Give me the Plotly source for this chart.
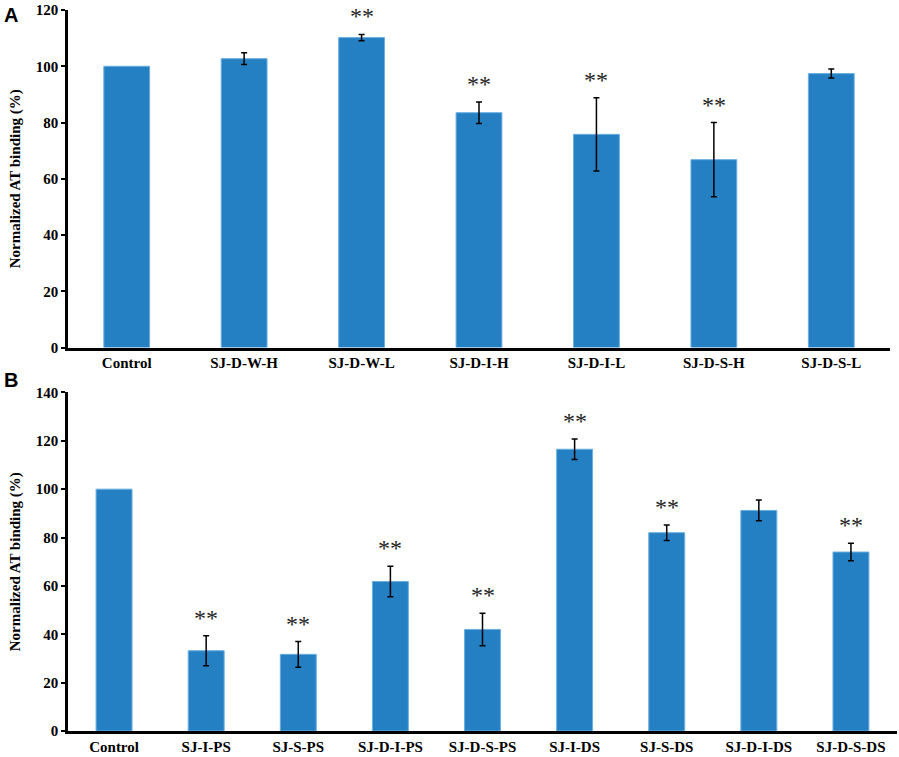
import plotly.graph_objects as go

# panel A
cats_a = ["Control", "SJ-D-W-H", "SJ-D-W-L", "SJ-D-I-H", "SJ-D-I-L", "SJ-D-S-H", "SJ-D-S-L"]
vals_a = [100, 102.7, 110.2, 83.5, 75.8, 66.8, 97.4]
errs_a = [None, 2.1, 1.1, 3.8, 13.0, 13.2, 1.6]
sig_a = ["", "", "**", "**", "**", "**", ""]

# panel B
cats_b = ["Control", "SJ-I-PS", "SJ-S-PS", "SJ-D-I-PS", "SJ-D-S-PS",
          "SJ-I-DS", "SJ-S-DS", "SJ-D-I-DS", "SJ-D-S-DS"]
vals_b = [100, 33.2, 31.7, 61.8, 42.0, 116.5, 82.0, 91.2, 74.0]
errs_b = [None, 6.2, 5.3, 6.3, 6.7, 4.2, 3.2, 4.3, 3.6]
sig_b = ["", "**", "**", "**", "**", "**", "**", "", "**"]

BAR = "#2580C3"
serif = "Liberation Serif"

H, W = 757, 899
ml, mr, mt, mb = 68, 2, 8, 25
ph = H - mt - mb
pw = W - ml - mr

fig = go.Figure()
annotations = []

for cats, vals, errs, sig, xa, ya in [(cats_a, vals_a, errs_a, sig_a, "x", "y"),
                                      (cats_b, vals_b, errs_b, sig_b, "x2", "y2")]:
    fig.add_trace(go.Bar(
        x=cats, y=vals, width=0.39,
        marker=dict(color=BAR, line=dict(color="#6AAEE0", width=1)),
        xaxis=xa, yaxis=ya, showlegend=False, hoverinfo="skip",
    ))
    # error bars only where a value is given (control has none)
    ex = [c for c, e in zip(cats, errs) if e is not None]
    ey = [v for v, e in zip(vals, errs) if e is not None]
    ee = [e for e in errs if e is not None]
    fig.add_trace(go.Scatter(
        x=ex, y=ey, mode="markers", marker=dict(size=1, opacity=0),
        error_y=dict(type="data", array=ee, visible=True,
                     color="black", thickness=1.5, width=3),
        xaxis=xa, yaxis=ya, showlegend=False, hoverinfo="skip",
    ))
    for c, v, e, s in zip(cats, vals, errs, sig):
        if s:
            annotations.append(dict(
                x=c, y=v + (e or 0), xref=xa, yref=ya, text=s, showarrow=False,
                yanchor="bottom", yshift=3,
                font=dict(family=serif, size=24, color="#222222"),
            ))

# panel letters
for letter, py in [("A", 13), ("B", 380)]:
    annotations.append(dict(
        x=(2 - ml) / pw, y=(H - mb - py) / ph, xref="paper", yref="paper",
        text=f"<b>{letter}</b>", showarrow=False, xanchor="left", yanchor="middle",
        font=dict(family="Liberation Sans", size=20, color="black"),
    ))

axis_common = dict(showline=True, linecolor="black", linewidth=2.5, showgrid=False,
                   zeroline=False, tickfont=dict(family=serif, size=15, color="black"),
                   tickprefix="<b>", ticksuffix="</b>")
yaxis_common = dict(dtick=20, ticks="outside", ticklen=4, tickwidth=1.5, tickcolor="black",
                    title=dict(text="<b>Normalized AT binding (%)</b>", standoff=12,
                               font=dict(family=serif, size=15, color="black")))

fig.update_layout(
    width=W, height=H,
    margin=dict(l=ml, r=mr, t=mt, b=mb),
    paper_bgcolor="white", plot_bgcolor="white",
    font=dict(family=serif, color="black"),
    xaxis=dict(domain=[0, (890 - ml) / pw], anchor="y", ticks="", **axis_common),
    yaxis=dict(domain=[(H - mb - 347) / ph, 1.0], anchor="x", range=[0, 120],
               **yaxis_common, **axis_common),
    xaxis2=dict(domain=[0, 1], anchor="y2", ticks="", **axis_common),
    yaxis2=dict(domain=[0, (H - mb - 392) / ph], anchor="x2", range=[0, 140],
                **yaxis_common, **axis_common),
    annotations=annotations,
)

fig.write_html("out.html", config={"displayModeBar": False},
               post_script="document.body.style.margin='0';")
